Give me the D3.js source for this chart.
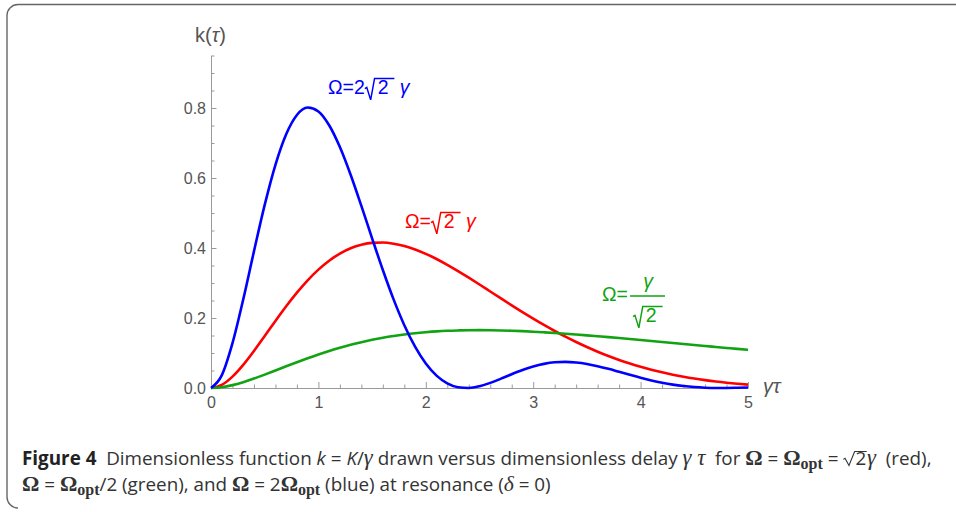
<!DOCTYPE html>
<html><head><meta charset="utf-8">
<script src="https://cdn.jsdelivr.net/npm/d3@7"></script>
<style>html,body{margin:0;padding:0;background:#fff}svg{display:block}</style>
</head><body>
<svg id="c" width="956" height="512"></svg>
<script>
// ---- data ----
const tau = [0,0.1,0.2,0.3,0.4,0.5,0.6,0.7,0.8,0.9,1.0,1.1,1.2,1.3,1.4,1.5,1.6,1.7,1.8,1.9,2.0,2.1,2.2,2.3,2.4,2.5,2.6,2.7,2.8,2.9,3.0,3.1,3.2,3.3,3.4,3.5,3.6,3.7,3.8,3.9,4.0,4.1,4.2,4.3,4.4,4.5,4.6,4.7,4.8,4.9,5.0];
const kBlue = [0,0.0360,0.1280,0.2530,0.3904,0.5231,0.6377,0.7250,0.7801,0.8013,0.7902,0.7507,0.6883,0.6092,0.5202,0.4277,0.3371,0.2532,0.1795,0.1181,0.0700,0.0354,0.0133,0.0022,0.0002,0.0051,0.0146,0.0267,0.0395,0.0515,0.0616,0.0690,0.0734,0.0746,0.0728,0.0686,0.0623,0.0547,0.0462,0.0376,0.0293,0.0217,0.0151,0.0097,0.0056,0.0027,0.0009,0.0001,0.0001,0.0007,0.0016];
const kRed = [0,0.0090,0.0326,0.0662,0.1058,0.1485,0.1917,0.2336,0.2726,0.3077,0.3382,0.3638,0.3841,0.3993,0.4094,0.4147,0.4156,0.4124,0.4057,0.3958,0.3833,0.3686,0.3520,0.3341,0.3152,0.2957,0.2758,0.2559,0.2362,0.2169,0.1982,0.1801,0.1629,0.1466,0.1313,0.1170,0.1037,0.0914,0.0801,0.0699,0.0606,0.0522,0.0447,0.0380,0.0321,0.0269,0.0224,0.0184,0.0150,0.0121,0.0097];
const kGreen = [0,0.0023,0.0082,0.0167,0.0270,0.0383,0.0501,0.0621,0.0738,0.0851,0.0959,0.1059,0.1151,0.1235,0.1310,0.1377,0.1436,0.1487,0.1530,0.1566,0.1594,0.1617,0.1634,0.1645,0.1652,0.1653,0.1651,0.1645,0.1636,0.1624,0.1609,0.1591,0.1572,0.1551,0.1528,0.1504,0.1479,0.1454,0.1427,0.1399,0.1372,0.1344,0.1315,0.1287,0.1258,0.1230,0.1201,0.1173,0.1145,0.1117,0.1090];
const xTicks = [0,1,2,3,4,5];
const xTickLabels = ["0","1","2","3","4","5"];
const yTicks = [0,0.2,0.4,0.6,0.8];
const yTickLabels = ["0.0","0.2","0.4","0.6","0.8"];
const xMinor = [0.2,0.4,0.6,0.8,1.2,1.4,1.6,1.8,2.2,2.4,2.6,2.8,3.2,3.4,3.6,3.8,4.2,4.4,4.6,4.8];
const yMinor = [0.05,0.1,0.15,0.25,0.3,0.35,0.45,0.5,0.55,0.65,0.7,0.75,0.85,0.9,0.95];

const COL = {blue:"#0000ff", red:"#ff0000", green:"#12a312"};
const ARIAL = "'Liberation Sans', Arial, sans-serif";
const SANS = "'Open Sans', 'Noto Sans', sans-serif";
const SERIF = "'Liberation Serif', 'DejaVu Serif', serif";

const svg = d3.select("#c");

// frame
svg.append("path")
  .attr("d","M956,4.5 H18 A11,11 0 0 0 7,15.5 V497 A11,11 0 0 0 18,508")
  .attr("fill","none").attr("stroke","#666").attr("stroke-width",1.4);

const x = d3.scaleLinear().domain([0,5]).range([211,748]);
const y = d3.scaleLinear().domain([0,0.95]).range([388,55.5]);

const AX = "#9a9a9a", TX = "#555";

function styleAxis(g){
  g.select(".domain").attr("stroke",AX).attr("stroke-width",1);
  g.selectAll(".tick line").attr("stroke",AX);
  g.selectAll(".tick text").attr("fill",TX).style("font-family",ARIAL).style("font-size","16px");
}

// x axis
const gx = svg.append("g").attr("transform","translate(0,388)")
  .call(d3.axisBottom(x).tickValues(xTicks).tickFormat((d,i)=>xTickLabels[i]).tickSizeInner(-6).tickSizeOuter(0).tickPadding(9));
styleAxis(gx);
gx.selectAll(".tick text").attr("y",9);
svg.append("g").attr("transform","translate(0,388)")
  .call(d3.axisBottom(x).tickValues(xMinor).tickFormat("").tickSizeInner(-3.5).tickSizeOuter(0))
  .call(g=>{g.select(".domain").remove(); g.selectAll(".tick line").attr("stroke",AX);});

// y axis
const gy = svg.append("g").attr("transform","translate(211,0)")
  .call(d3.axisLeft(y).tickValues(yTicks).tickFormat((d,i)=>yTickLabels[i]).tickSizeInner(-5.5).tickSizeOuter(0).tickPadding(5));
styleAxis(gy);
gy.selectAll(".tick text").attr("x",-5);
svg.append("g").attr("transform","translate(211,0)")
  .call(d3.axisLeft(y).tickValues(yMinor).tickFormat("").tickSizeInner(-3.5).tickSizeOuter(0))
  .call(g=>{g.select(".domain").remove(); g.selectAll(".tick line").attr("stroke",AX);});

// axis titles
const kt = svg.append("text").attr("x",195).attr("y",42).attr("fill",TX)
  .style("font-family",ARIAL).style("font-size","20px");
kt.append("tspan").text("k(");
kt.append("tspan").style("font-style","italic").text("τ");
kt.append("tspan").text(")");
svg.append("text").attr("x",763).attr("y",393).attr("fill",TX)
  .style("font-family",ARIAL).style("font-size","20px").style("font-style","italic").text("γτ");

// curves
const line = d3.line().x(d=>x(d[0])).y(d=>y(d[1])).curve(d3.curveMonotoneX);
[[kRed,COL.red],[kGreen,COL.green],[kBlue,COL.blue]].forEach(([vals,c])=>{
  svg.append("path").datum(d3.zip(tau,vals)).attr("d",line)
    .attr("fill","none").attr("stroke",c).attr("stroke-width",2.6).attr("stroke-linejoin","round");
});

// inline text layout helper
function inline(g, x0, y0, segs, base, color){
  let cx = x0;
  for (const s of segs){
    const size = base*(s.scale||1);
    const fam = s.font||ARIAL;
    if (s.sqrt!==undefined){
      const r = s.rad;
      const t = g.append("text").attr("x",cx + r.dx*size).attr("y",y0)
        .attr("fill",color).style("font-family",fam).style("font-size",size+"px").text(s.sqrt);
      const w = t.node().getComputedTextLength();
      const end = cx + r.dx*size + w + r.tail*size;
      g.append("path").attr("d",
        `M${cx},${y0-r.h0*size} L${cx+r.hx*size},${y0-r.h1*size} L${cx+r.vx*size},${y0+r.bot*size} L${cx+r.tx*size},${y0-r.top*size} H${end}`)
        .attr("fill","none").attr("stroke",color).attr("stroke-width",r.sw).attr("stroke-linejoin","miter");
      cx = end + (r.after||0)*size;
    } else {
      const t = g.append("text").attr("x",cx).attr("y",y0+(s.dy||0))
        .attr("fill",s.color||color).style("font-family",fam).style("font-size",size+"px")
        .style("font-style",s.italic?"italic":"normal").style("font-weight",s.bold?"bold":"normal")
        .style("white-space","pre").attr("xml:space","preserve").text(s.t);
      cx += t.node().getComputedTextLength();
    }
  }
  return cx;
}

const RAD = {dx:0.66, h0:0.28, hx:0.10, h1:0.34, vx:0.30, bot:0.30, tx:0.50, top:0.80, tail:0.30, sw:1.5};
const ann = svg.append("g");
inline(ann, 328, 94, [{t:"Ω=2"},{sqrt:"2",rad:RAD},{t:" γ",italic:true}], 19.5, COL.blue);
inline(ann, 405, 228, [{t:"Ω="},{sqrt:"2",rad:RAD},{t:" γ",italic:true}], 19.5, COL.red);
// green fraction label
inline(ann, 602, 301, [{t:"Ω="}], 19.5, COL.green);
ann.append("line").attr("x1",630).attr("x2",665).attr("y1",296).attr("y2",296)
  .attr("stroke",COL.green).attr("stroke-width",1.3);
ann.append("text").attr("x",648).attr("y",288).attr("text-anchor","middle").attr("fill",COL.green)
  .style("font-family",ARIAL).style("font-size","19.5px").style("font-style","italic").text("γ");
inline(ann, 633, 322, [{sqrt:"2",rad:RAD}], 19.5, COL.green);

// caption
const CRAD = {dx:0.64, h0:0.30, hx:0.09, h1:0.36, vx:0.30, bot:0.03, tx:0.60, top:0.72, tail:0.03, sw:1.1, after:0.02};
const cap = svg.append("g");
const C = "#333";
const line1 = [
  {t:"Figure 4", font:SANS, bold:true, color:"#222"},
  {t:"  Dimensionless function ", font:SANS},
  {t:"k", font:SANS, italic:true},
  {t:" = ", font:SANS},
  {t:"K", font:SANS, italic:true},
  {t:"/", font:SANS},
  {t:"γ", font:SERIF, italic:true, scale:1.2},
  {t:" drawn versus dimensionless delay ", font:SANS},
  {t:"γ τ", font:SERIF, italic:true, scale:1.2},
  {t:"  for ", font:SANS},
  {t:"Ω", font:SERIF, bold:true, scale:1.15},
  {t:" = ", font:SANS},
  {t:"Ω", font:SERIF, bold:true, scale:1.15},
  {t:"opt", font:SERIF, bold:true, scale:0.85, dy:4},
  {t:" = ", font:SANS},
  {sqrt:"2", font:SANS, rad:CRAD},
  {t:"γ", font:SERIF, italic:true, scale:1.2},
  {t:"  (red),", font:SANS}
];
const line2 = [
  {t:"Ω", font:SERIF, bold:true, scale:1.15},
  {t:" = ", font:SANS},
  {t:"Ω", font:SERIF, bold:true, scale:1.15},
  {t:"opt", font:SERIF, bold:true, scale:0.85, dy:4},
  {t:"/2 (green), and ", font:SANS},
  {t:"Ω", font:SERIF, bold:true, scale:1.15},
  {t:" = 2", font:SANS},
  {t:"Ω", font:SERIF, bold:true, scale:1.15},
  {t:"opt", font:SERIF, bold:true, scale:0.85, dy:4},
  {t:" (blue) at resonance (", font:SANS},
  {t:"δ", font:SERIF, italic:true, scale:1.15},
  {t:" = 0)", font:SANS}
];
// fit line 1 to its width in the reference (22 → 932)
const probe = svg.append("g").attr("opacity",0);
const w1 = inline(probe, 0, 0, line1, 17, C);
probe.remove();
const fs = 17 * (932-22)/w1;
inline(cap, 22, 465, line1, fs, C);
inline(cap, 22, 491, line2, fs, C);
</script>
</body></html>
